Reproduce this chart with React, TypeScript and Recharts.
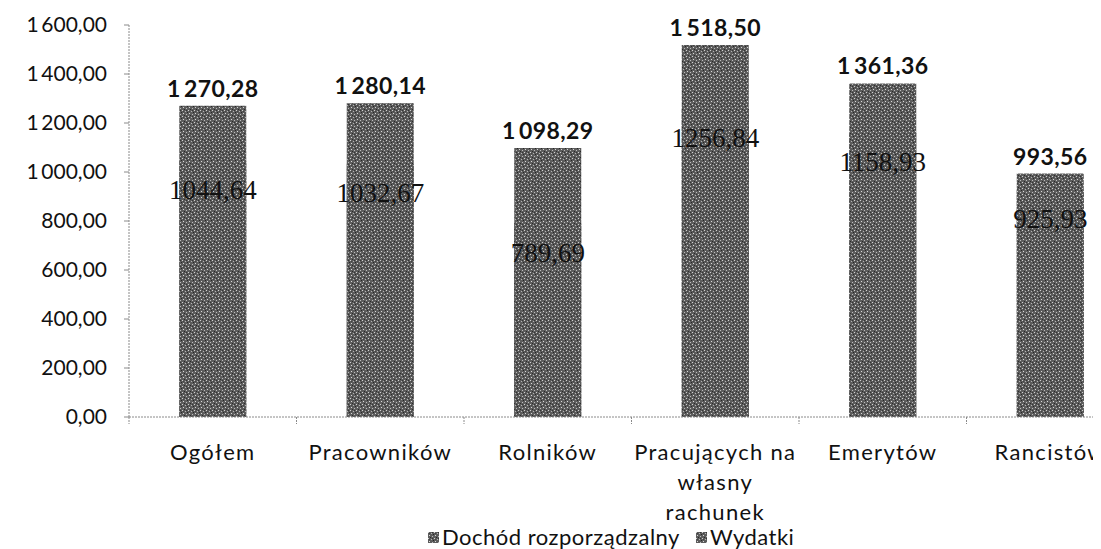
import React from "react";
import { BarChart, Bar, XAxis, YAxis, LabelList } from "recharts";

const CATEGORIES = [
  "Ogółem",
  "Pracowników",
  "Rolników",
  "Pracujących na\nwłasny\nrachunek",
  "Emerytów",
  "Rancistów",
];
const DOCHOD = [1270.28, 1280.14, 1098.29, 1518.5, 1361.36, 993.56];
const WYDATKI = [1044.64, 1032.67, 789.69, 1256.84, 1158.93, 925.93];
const Y_TICKS = [0, 200, 400, 600, 800, 1000, 1200, 1400, 1600];
const SERIES_NAMES = ["Dochód rozporządzalny", "Wydatki"];

const rows = CATEGORIES.map((name, i) => ({ name, dochod: DOCHOD[i], wydatki: WYDATKI[i] }));

const FONT = "Lato, 'Open Sans', sans-serif";
const AXIS_GRAY = "#8a8a8a";
const CHART_W = 1126;
const CHART_H = 541;
const Y_AXIS_W = 121;
const BAND = (CHART_W - Y_AXIS_W) / CATEGORIES.length;

// "1 600,00" style
function fmt(v: number, space = true) {
  const [int, dec] = v.toFixed(2).split(".");
  const grouped = space ? int.replace(/\B(?=(\d{3})+(?!\d))/g, "\u2009") : int;
  return `${grouped},${dec}`;
}

function CatTick(props: any) {
  const { x, y, payload } = props;
  const lines = String(payload.value).split("\n");
  return (
    <g>
      <line x1={x - BAND / 2} x2={x - BAND / 2} y1={y} y2={y + 7} stroke={AXIS_GRAY} strokeDasharray="2 1" />
      {lines.map((l, i) => (
        <text
          key={i}
          x={x}
          y={y + 43 + i * 30}
          textAnchor="middle"
          fontFamily={FONT}
          fontSize={22}
          letterSpacing={1.3}
          fill="#111"
        >
          {l}
        </text>
      ))}
    </g>
  );
}

function WydatkiLabel(props: any) {
  const { x, y, width, value } = props;
  return (
    <text
      x={x + width / 2}
      y={y + 29}
      textAnchor="middle"
      dominantBaseline="central"
      fontFamily="'Liberation Serif', serif"
      fontSize={27}
      fill="#111"
    >
      {fmt(value, false)}
    </text>
  );
}

function Swatch() {
  return (
    <svg width={11} height={11} style={{ marginRight: 3 }}>
      <rect width={11} height={11} fill="url(#tex)" />
    </svg>
  );
}

export default function App() {
  return (
    <div style={{ position: "relative", width: 1093, height: CHART_H, overflow: "hidden", background: "#fff" }}>
      <BarChart
        width={CHART_W}
        height={CHART_H}
        data={rows}
        margin={{ top: 17, right: 0, left: 0, bottom: 0 }}
        barCategoryGap="30%"
      >
        <defs>
          <pattern id="tex" width={6} height={6} patternUnits="userSpaceOnUse">
            <rect width={6} height={6} fill="#5c5c5c" />
            <rect x={0} y={0} width={1} height={1} fill="#d0d0d0" />
            <rect x={3} y={1} width={1} height={1} fill="#b5b5b5" />
            <rect x={1} y={3} width={1} height={1} fill="#d8d8d8" />
            <rect x={4} y={4} width={1} height={1} fill="#bcbcbc" />
            <rect x={2} y={5} width={1} height={1} fill="#2a2a2a" />
            <rect x={5} y={2} width={1} height={1} fill="#262626" />
            <rect x={4} y={0} width={1} height={1} fill="#333" />
            <rect x={1} y={1} width={1} height={1} fill="#444" />
          </pattern>
        </defs>
        <XAxis
          xAxisId="a"
          dataKey="name"
          height={132}
          interval={0}
          tickLine={false}
          tickSize={0}
          tickMargin={0}
          axisLine={{ stroke: AXIS_GRAY, strokeDasharray: "2 1" }}
          tick={<CatTick />}
        />
        <XAxis xAxisId="b" dataKey="name" hide />
        <YAxis
          width={Y_AXIS_W}
          domain={[0, 1600]}
          ticks={Y_TICKS}
          interval={0}
          tickFormatter={(v: number) => fmt(v)}
          tickSize={5}
          tickMargin={17}
          tickLine={{ stroke: AXIS_GRAY }}
          axisLine={{ stroke: AXIS_GRAY, strokeDasharray: "2 1" }}
          tick={{ fontFamily: FONT, fontSize: 21, fill: "#111" }}
        />
        <Bar xAxisId="a" dataKey="dochod" name={SERIES_NAMES[0]} fill="url(#tex)" isAnimationActive={false}>
          <LabelList
            dataKey="dochod"
            position="top"
            offset={9}
            formatter={(v: any) => fmt(Number(v))}
            style={{ fontFamily: FONT, fontSize: 23, fontWeight: 700, fill: "#111", letterSpacing: 0.4 }}
          />
        </Bar>
        <Bar xAxisId="b" dataKey="wydatki" name={SERIES_NAMES[1]} fill="url(#tex)" isAnimationActive={false}>
          <LabelList dataKey="wydatki" content={<WydatkiLabel />} />
        </Bar>
      </BarChart>
      <div
        style={{
          position: "absolute",
          left: 420,
          top: 518,
          display: "flex",
          alignItems: "center",
          fontFamily: FONT,
          fontSize: 22,
          letterSpacing: 0.5,
          color: "#111",
          lineHeight: "22px",
          whiteSpace: "nowrap",
        }}
      >
        <Swatch />
        <span style={{ marginRight: 16 }}>{SERIES_NAMES[0]}</span>
        <Swatch />
        <span>{SERIES_NAMES[1]}</span>
      </div>
    </div>
  );
}
